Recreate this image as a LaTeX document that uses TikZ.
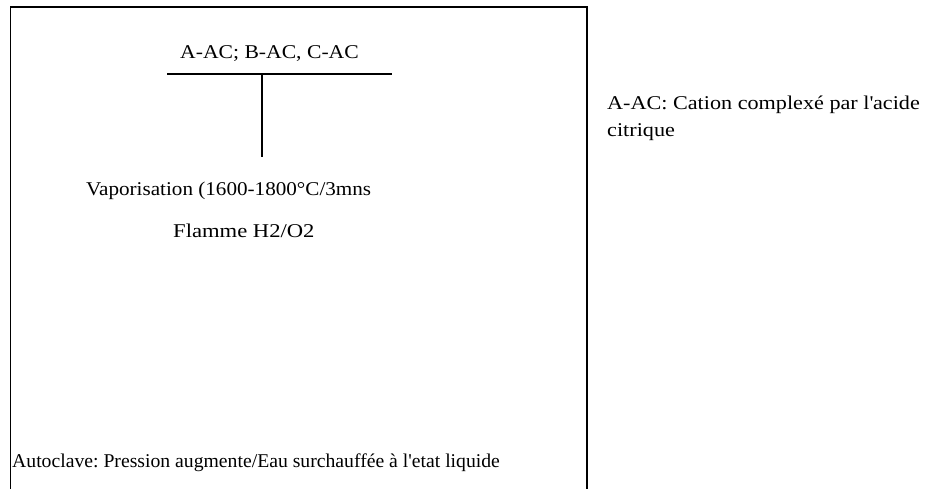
\documentclass[tikz,border=0pt]{standalone}
\usepackage{fontspec}
\setmainfont{Liberation Serif}
\newcommand{\stretched}[1]{\addfontfeature{FakeStretch=#1}}
\begin{document}
\frenchspacing
\begin{tikzpicture}[x=1pt,y=-1pt,
  label/.style={inner sep=0pt,anchor=base west,font=\fontsize{19.5}{26}\selectfont},
  frame/.style={line width=1.6pt,black},
  rule/.style={line width=1.6pt,black}]
  \useasboundingbox (0,0) rectangle (933,488);
  % open-bottom frame
  \draw[frame] (10.5,490) -- (10.5,7) -- (587,7) -- (587,490);
  % feed label and T connector
  \node[label] (feed) at (180,58) {\stretched{1.11}A-AC; B-AC, C-AC};
  \coordinate (barL) at (167,74);
  \coordinate (barR) at (392,74);
  \coordinate (barM) at (262,74);
  \coordinate (stem) at (262,157);
  \draw[rule] (barL) -- (barR);
  \draw[rule] (barM) -- (stem);
  % process steps
  \node[label] (vap) at (86,195) {\stretched{1.084}Vaporisation (1600-1800°C/3mns};
  \node[label] (flame) at (173,237) {\stretched{1.16}Flamme H2/O2};
  \node[label] (auto) at (12,467) {\stretched{1.01}Autoclave: Pression augmente/Eau surchauffée à l\textquotesingle etat liquide};
  % legend
  \node[label] (leg1) at (607,109) {\stretched{1.137}A-AC: Cation complexé par l\textquotesingle acide};
  \node[label] (leg2) at (607,136) {\stretched{1.137}citrique};
\end{tikzpicture}
\end{document}
